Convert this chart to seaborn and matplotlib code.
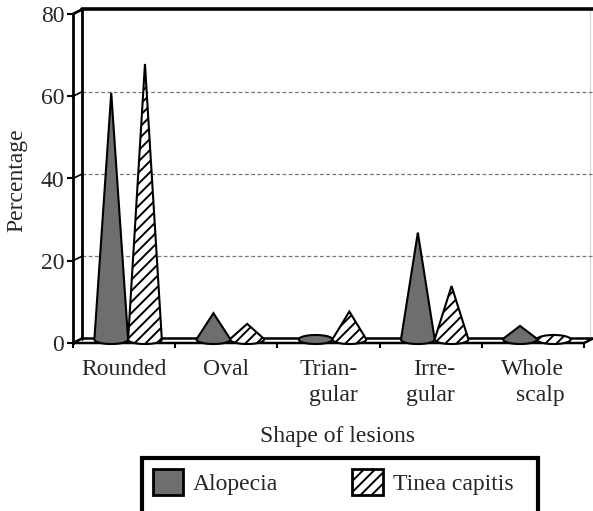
import numpy as np
import pandas as pd
import seaborn as sns
import matplotlib
matplotlib.use('Agg')
import matplotlib.pyplot as plt
from matplotlib.patches import Polygon, Patch, Rectangle
from matplotlib.lines import Line2D

# ---- data ----
shapes = ["Rounded", "Oval", "Triangular", "Irregular", "Whole scalp"]
tick_labels = ["Rounded", "Oval", "Trian-\ngular", "Irre-\ngular", "Whole\nscalp"]
series = ["Alopecia", "Tinea capitis"]
alopecia = [60, 6.4, 0.8, 26, 3.3]
tinea = [67, 3.8, 6.8, 13, 1.0]
y_ticks = [0, 20, 40, 60, 80]

sns.set_style('white')
plt.rcParams['font.family'] = ['Liberation Serif', 'DejaVu Serif']
plt.rcParams['hatch.linewidth'] = 1.4
fs = 17
GRAY = '#6e6e6e'

W, H = 593, 511
fig = plt.figure(figsize=(W / 100, H / 100), dpi=100)
x0, x1, yb, yt = 73, 584, 343, 14
ax = fig.add_axes([x0 / W, (H - yb) / H, (x1 - x0) / W, (yb - yt) / H])

df = pd.DataFrame({
    'shape': shapes * 2,
    'series': [series[0]] * len(shapes) + [series[1]] * len(shapes),
    'value': alopecia + tinea,
})
sns.barplot(data=df, x='shape', y='value', hue='series', order=shapes,
            hue_order=series, width=0.66, errorbar=None, legend=False,
            palette=[GRAY, 'white'], ax=ax)
ax.set_xlim(-0.5, 4.5)
ax.set_ylim(0, 80)
ax.set_xlabel('')
ax.set_ylabel('')
ax.grid(False)

px_x = (x1 - x0) / 5.0
px_y = (yb - yt) / 80.0
bdx, bdy = 9 / px_x, 4.5 / px_y      # back-wall depth offset
mdx, mdy = 4 / px_x, 3.5 / px_y      # cone depth offset
eb = 4.5 / px_y                      # ellipse half-height


def convex_hull(points):
    pts = sorted(set((round(p[0], 9), round(p[1], 9)) for p in points))

    def cross(o, a, b):
        return (a[0] - o[0]) * (b[1] - o[1]) - (a[1] - o[1]) * (b[0] - o[0])
    lower, upper = [], []
    for p in pts:
        while len(lower) >= 2 and cross(lower[-2], lower[-1], p) <= 0:
            lower.pop()
        lower.append(p)
    for p in reversed(pts):
        while len(upper) >= 2 and cross(upper[-2], upper[-1], p) <= 0:
            upper.pop()
        upper.append(p)
    return lower[:-1] + upper[:-1]


# floor
floor = Polygon([(-0.5, 0), (4.5, 0), (4.5 + bdx, bdy), (-0.5 + bdx, bdy)],
                closed=True, facecolor='white', edgecolor='black', lw=1.8,
                zorder=2, clip_on=False)
ax.add_patch(floor)

# back wall frame and gridlines
ax.add_line(Line2D([-0.5 + bdx, -0.5 + bdx], [bdy, 80 + bdy], color='black', lw=2, zorder=3, clip_on=False))
ax.add_line(Line2D([-0.5 + bdx, 4.5 + bdx], [80 + bdy, 80 + bdy], color='black', lw=2.6, zorder=3, clip_on=False))
ax.add_line(Line2D([4.5 + 6 / px_x] * 2, [bdy, 80 + bdy], color='#dcdcdc', lw=1, zorder=1, clip_on=False))
for v in y_ticks[1:]:
    if v < 80:
        ax.add_line(Line2D([-0.5 + bdx, 4.5 + bdx], [v + bdy, v + bdy], color='#777777',
                           lw=0.9, ls=(0, (3, 2)), zorder=1, clip_on=False))
    ax.add_line(Line2D([-0.5, -0.5 + bdx], [v, v + bdy], color='black',
                       lw=2 if v == 80 else 1.2, zorder=3, clip_on=False))

# cones built from seaborn's bar geometry
t = np.linspace(0, 2 * np.pi, 240)
for container, name in zip(ax.containers, series):
    for bar in container:
        a = bar.get_width() / 2
        cx = bar.get_x() + a + mdx
        h = bar.get_height()
        ell = np.column_stack([cx + a * np.cos(t), mdy + eb * np.sin(t)])
        pts = np.vstack([ell, [[cx, mdy + h]]])
        hull = convex_hull(pts)
        is_t = name == series[1]
        cone = Polygon(hull, closed=True, facecolor='white' if is_t else GRAY,
                       edgecolor='black', lw=1.5, hatch='///' if is_t else None,
                       zorder=5, clip_on=False)
        ax.add_patch(cone)
        bar.set_visible(False)

# axes styling
for s in ['top', 'right', 'bottom']:
    ax.spines[s].set_visible(False)
ax.spines['left'].set_visible(True)
ax.spines['left'].set_linewidth(2)
ax.spines['left'].set_color('black')
ax.spines['left'].set_zorder(4)

ax.set_yticks(y_ticks)
ax.set_yticklabels([str(v) for v in y_ticks])
ax.tick_params(axis='y', left=True, length=4.3, width=1.5, pad=2, labelsize=fs,
               color='black', direction='out')
ax.set_xticks(range(len(shapes)))
ax.set_xticklabels(tick_labels)
ax.set_xticks(np.arange(-0.5, 5, 1), minor=True)
ax.tick_params(axis='x', which='major', bottom=True, length=0, pad=11.5, labelsize=fs)
ax.tick_params(axis='x', which='minor', bottom=True, length=3.6, width=1.5, color='black')
for lbl in ax.get_xticklabels():
    lbl.set_multialignment('right')
    lbl.set_linespacing(1.3)

fig.text(337.5 / W, (H - 442) / H, 'Shape of lesions', ha='center', va='baseline', fontsize=fs)
fig.text(16.5 / W, (H - 180) / H, 'Percentage', ha='center', va='center', rotation=90, fontsize=fs)

# legend box (bottom edge runs past the image, as in the reference)
fig.patches.append(Rectangle((142 / W, (H - 530) / H), (538 - 142) / W, 72 / H,
                             transform=fig.transFigure, fill=False, edgecolor='black',
                             lw=3, clip_on=False))
handles = [Patch(facecolor=GRAY, edgecolor='black', lw=2, label=series[0]),
           Patch(facecolor='white', edgecolor='black', lw=2, hatch='///', label=series[1])]
leg = fig.legend(handles=handles, loc='upper left', bbox_to_anchor=(142 / W, (H - 458) / H),
                 ncol=2, frameon=False, fontsize=fs, handlelength=1.3, handleheight=1.35,
                 handletextpad=0.42, columnspacing=3.13, borderpad=0.45, borderaxespad=0)

fig.savefig('out.png', dpi=100)
